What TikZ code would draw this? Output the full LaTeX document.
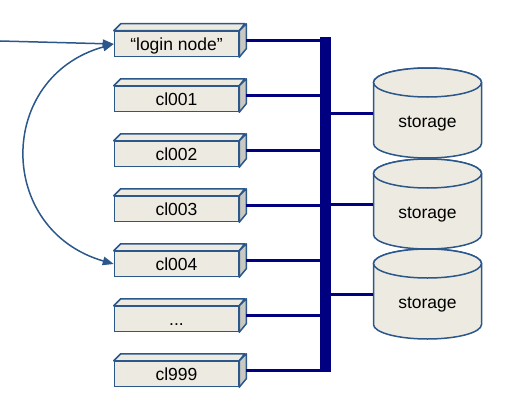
\documentclass[tikz,border=0pt]{standalone}
\usepackage{fontspec}
\setmainfont{Liberation Sans}
\usetikzlibrary{arrows.meta,calc}
\definecolor{boxfill}{HTML}{EDEBE1}
\definecolor{sidefill}{HTML}{C9C9C1}
\definecolor{edge}{HTML}{2B578B}
\definecolor{busc}{HTML}{000080}
\tikzset{
  box/.style={draw=edge, fill=boxfill, line width=1.5pt, minimum width=124pt, minimum height=25pt, inner sep=0pt, text height=12.6pt, text depth=0pt, font=\fontsize{17.5}{20}\selectfont},
  boxtop/.style={draw=edge, fill=boxfill, line width=1.5pt, line join=round},
  boxside/.style={draw=edge, fill=sidefill, line width=1.5pt, line join=round},
  busline/.style={draw=busc, line width=3pt},
  cylfill/.style={draw=edge, fill=boxfill, line width=1.5pt},
  cylarea/.style={minimum width=108pt, minimum height=90pt, inner sep=0pt},
  cyltext/.style={font=\fontsize{17.5}{20}\selectfont, inner sep=0pt},
  link/.style={draw=edge, line width=1.5pt, {Triangle[length=11pt,width=8.5pt]}-{Triangle[length=11pt,width=8.5pt]}},
  feed/.style={draw=edge, line width=1.5pt, -{Triangle[length=11pt,width=8.5pt]}}
}
\begin{document}
\begin{tikzpicture}[x=1pt,y=-1pt]
\useasboundingbox (0,0) rectangle (516,404);
% boxes
\foreach \n/\yy/\t in {login/44/{“login node”},c1/99/{cl001},c2/154/{cl002},c3/209/{cl003},c4/264/{cl004},c5/319/{{...}},c6/374/{cl999}}{
  \node[box] (\n) at (176.5,\yy) {\t};
  \draw[boxtop] (\n.north west) -- ++(7pt,7pt) -- ++(124pt,0pt) -- (\n.north east) -- cycle;
  \draw[boxside] (\n.north east) -- ++(7pt,7pt) -- ++(0pt,-25pt) -- (\n.south east) -- cycle;
  \coordinate (\n-p) at ([xshift=7pt,yshift=3.5pt]\n.east);
}
% bus
\node[fill=busc, minimum width=11pt, minimum height=335pt, inner sep=0pt] (bus) at (325.5,204.5) {};
\foreach \n in {login,c1,c2,c3,c4,c5,c6}{
  \draw[busline] (\n-p) -- (\n-p -| bus.center);
}
% storage
\foreach \i/\m in {1/113,2/204,3/294}{
  \node[cylarea] (s\i) at (427.5,\m) {};
  \draw[cylfill] (373.5,\m+30.5) arc[start angle=180,end angle=360,x radius=54pt,y radius=14.5pt]
     -- (481.5,\m-30.5) arc[start angle=0,end angle=180,x radius=54pt,y radius=14.5pt] -- cycle;
  \draw[cylfill] (427.5,\m-30.5) ellipse[x radius=54pt,y radius=14.5pt];
  \node[cyltext] (s\i t) at (427.5,\m+11) {storage};
  \draw[busline] (bus.center |- s\i.west) -- (s\i.west);
}
\node[fill=busc, minimum width=11pt, minimum height=335pt, inner sep=0pt] at (bus) {};
% arrows
\coordinate (src) at (0,41);
\draw[feed] (src) -- (login.west);
\draw[link] (c4.west) .. controls (-4,230) and (-4,77) .. (login.west);
\end{tikzpicture}
\end{document}
